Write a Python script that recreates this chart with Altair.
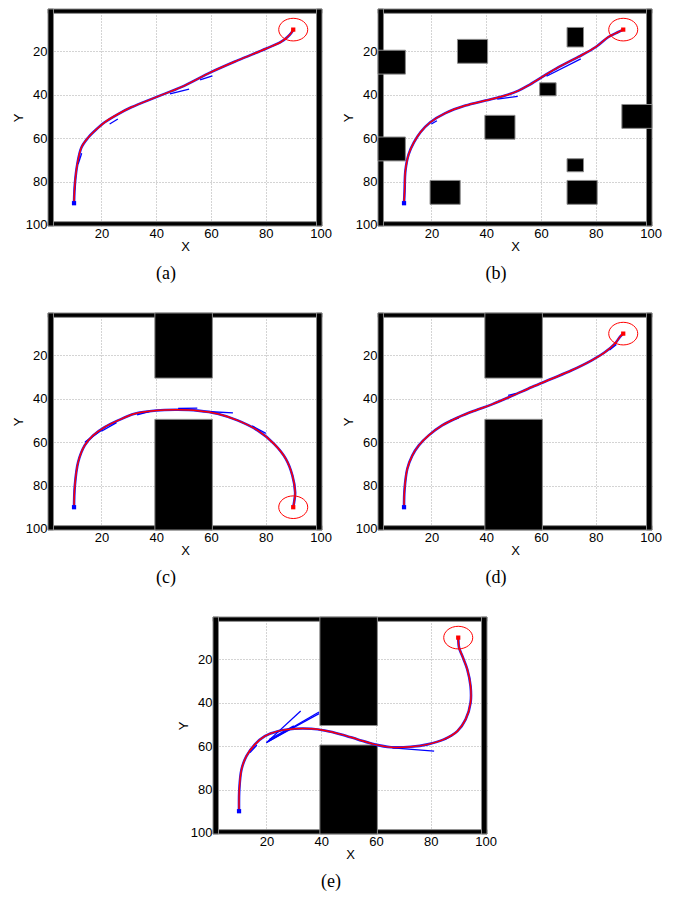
import altair as alt
import pandas as pd

# ---------------- data ----------------
DOMAIN = [0.5, 100.5]
TICKS = [20, 40, 60, 80, 100]

# map border (x, x2, y, y2)
FRAME = [(0.5, 100.5, 0.5, 2.5), (0.5, 100.5, 98.5, 100.5),
         (0.5, 2.5, 0.5, 100.5), (98.5, 100.5, 0.5, 100.5)]

OBS_A = []
OBS_B = [(0.5, 10.5, 19.5, 30.5), (29.5, 40.5, 14.5, 25.5), (69.5, 75.5, 9.0, 18.0),
         (59.5, 65.5, 34.5, 40.5), (89.5, 100.5, 44.5, 55.5), (39.5, 50.5, 49.5, 60.5),
         (0.5, 10.5, 59.5, 70.5), (69.5, 75.5, 69.5, 75.5), (19.5, 30.5, 79.5, 90.5),
         (69.5, 80.5, 79.5, 90.5)]
OBS_CD = [(39.5, 60.5, 0.5, 30.5), (39.5, 60.5, 49.5, 100.5)]
OBS_E = [(39.5, 60.5, 0.5, 50.5), (39.5, 60.5, 59.5, 100.5)]

PATH_A_X = [10, 10.3, 11.2, 12.7, 15.2, 17.6, 21.2, 26.1, 30.9, 40, 49.1, 60, 69.7, 80, 85.5, 87.9, 89.4, 90]
PATH_A_Y = [90, 81.3, 72, 64.3, 59.7, 56.6, 52.7, 48.9, 45.8, 41.1, 36.5, 29.6, 24.2, 18.8, 15.7, 13.4, 11.3, 10]

PATH_B_X = [10, 10.2, 10.5, 11.7, 13.6, 16, 19.6, 25.1, 32.4, 39.7, 46.9, 51.8, 55.4, 60.3, 66.4, 73.6, 80, 84.6, 88, 90]
PATH_B_Y = [90, 84.4, 75.1, 67.4, 62, 57.3, 52.7, 48.5, 45, 42.7, 40.4, 38.1, 35.7, 31.9, 27.3, 22.6, 18, 13.4, 11.2, 10]

PATH_C_X = [10, 10.3, 11.5, 13.9, 17, 21.2, 26.1, 32.1, 40, 47.9, 55.2, 62.4, 69.7, 77, 83, 87.3, 89.7, 90.7, 90.5, 90]
PATH_C_Y = [90, 80, 69.2, 61.5, 56.9, 53.1, 50, 46.9, 45.4, 45.1, 45.5, 46.9, 50, 54.6, 60.8, 67.7, 75.4, 83.1, 86.2, 90]

PATH_D_X = [10, 10.2, 11.2, 13, 15.4, 19, 23.9, 29.9, 36, 42.1, 49.4, 56.7, 63.9, 71.2, 78.5, 83.4, 87, 88.8, 90]
PATH_D_Y = [90, 81.7, 72.3, 66.2, 61.5, 56.9, 52.3, 48.5, 45.4, 42.6, 38.7, 34.6, 30.8, 26.9, 22.3, 18.5, 14.6, 11.5, 10]

PATH_E_X = [10, 10.1, 10.9, 12.7, 15.8, 19.4, 24.2, 30.3, 36.4, 41.2, 47.3, 53.3, 59.4, 65.5, 72.7, 78.8,
            84.8, 89.7, 92.7, 94.5, 94.5, 93.3, 91.5, 90.3, 90]
PATH_E_Y = [90, 80, 70.8, 64.6, 59.2, 55.4, 53.1, 52, 52, 52.8, 54.6, 56.9, 59.2, 60.5, 60.3, 59.2,
            56.9, 53.1, 47.7, 40, 32.3, 24.6, 18.5, 14.6, 10]

# blue predicted segments: each is (xs, ys)
BLUE_A = [([45, 52], [39.6, 37.4]), ([56, 60.5], [33.2, 31.3]), ([11.5, 12.8], [72, 67]),
          ([10.2, 10.5], [84, 80]), ([23, 26], [53.5, 51.2])]
BLUE_B = [([44, 51.5], [42, 40.8]), ([62, 74.5], [31.5, 23.5]), ([59, 63], [33, 30]),
          ([20, 22], [53.5, 52])]
BLUE_C = [([14, 20], [60, 54.5]), ([20, 25.5], [55, 51]), ([33, 37.5], [47.5, 46]),
          ([48, 55], [44.5, 44.3]), ([60, 68], [46, 46.5]), ([75, 80], [52.5, 56])]
BLUE_D = [([27, 30], [50, 48.8]), ([48, 51], [38.5, 37.5]), ([85, 87.5], [17.5, 15])]
BLUE_E = [([20, 32.5], [58.4, 43.8]), ([20, 39.2], [58.4, 44.3]), ([20.5, 39.2], [58.0, 45.0]),
          ([21, 30], [57, 50.7]), ([66, 81.2], [60.8, 62.3]), ([85, 88], [57, 55]),
          ([14, 16.5], [63, 59.5])]

START = (10, 90)
GOAL_UP = (90, 10)
GOAL_DOWN = (90, 90)

CAPTIONS = ["(a)", "(b)", "(c)", "(d)", "(e)"]

ELLIPSE = "M-1,0A1,0.78,0,1,1,1,0A1,0.78,0,1,1,-1,0Z"

# ---------------- chart ----------------
W, H = 274, 217


def panel(obs, px, py, blue, goal, cap):
    xs = alt.Scale(domain=DOMAIN, nice=False, zero=False)
    ys = alt.Scale(domain=DOMAIN, nice=False, zero=False, reverse=True)
    common = dict(grid=True, gridDash=[1, 2], gridColor="#a8a8a8", gridWidth=1,
                  domain=False, ticks=False, labelFont="Liberation Sans", labelFontSize=13,
                  labelColor="black", titleFont="Liberation Sans", titleFontSize=13,
                  titleFontWeight="normal", titleColor="black")
    xax = alt.Axis(values=TICKS, title="X", labelPadding=1, titlePadding=0, **common)
    yax = alt.Axis(values=TICKS, title="Y", labelPadding=1, titlePadding=0, **common)
    X = lambda f: alt.X(f, type="quantitative", scale=xs, axis=xax)
    Y = lambda f: alt.Y(f, type="quantitative", scale=ys, axis=yax)

    rect_df = pd.DataFrame(FRAME + obs, columns=["x", "x2", "y", "y2"])
    rects = alt.Chart(rect_df).mark_rect(color="black", stroke="#8a8a8a", strokeWidth=1).encode(
        x=X("x"), x2="x2", y=Y("y"), y2="y2")

    path_df = pd.DataFrame({"x": px, "y": py, "i": list(range(len(px)))})
    under = alt.Chart(path_df).mark_line(color="#2020ff", strokeWidth=2.6,
                                         interpolate="catmull-rom").encode(
        x=X("x"), y=Y("y"), order="i:Q")

    rows = []
    for k, (bx, by) in enumerate(blue):
        for j, (a, b) in enumerate(zip(bx, by)):
            rows.append({"x": a, "y": b, "seg": k, "i": j})
    blue_df = pd.DataFrame(rows)
    segs = alt.Chart(blue_df).mark_line(color="#0000ff", strokeWidth=1.3).encode(
        x=X("x"), y=Y("y"), detail="seg:N", order="i:Q")

    red = alt.Chart(path_df).mark_line(color="#ff0000", strokeWidth=1.5,
                                       interpolate="catmull-rom").encode(
        x=X("x"), y=Y("y"), order="i:Q")

    goal_df = pd.DataFrame({"x": [goal[0]], "y": [goal[1]]})
    ring = alt.Chart(goal_df).mark_point(shape=ELLIPSE, size=841, color="#ff0000",
                                         filled=False, strokeWidth=1, opacity=1).encode(
        x=X("x"), y=Y("y"))
    gdot = alt.Chart(goal_df).mark_square(size=18, color="#ff0000", opacity=1).encode(
        x=X("x"), y=Y("y"))
    start_df = pd.DataFrame({"x": [START[0]], "y": [START[1]]})
    sdot = alt.Chart(start_df).mark_square(size=18, color="#0000ff", opacity=1).encode(
        x=X("x"), y=Y("y"))

    return alt.layer(rects, under, segs, red, ring, gdot, sdot).properties(
        width=W, height=H,
        title=alt.TitleParams(cap, orient="bottom", font="Liberation Serif", fontSize=18,
                              fontWeight="normal", color="black", dx=-19, offset=12))


pa = panel(OBS_A, PATH_A_X, PATH_A_Y, BLUE_A, GOAL_UP, CAPTIONS[0])
pb = panel(OBS_B, PATH_B_X, PATH_B_Y, BLUE_B, GOAL_UP, CAPTIONS[1])
pc = panel(OBS_CD, PATH_C_X, PATH_C_Y, BLUE_C, GOAL_DOWN, CAPTIONS[2])
pd_ = panel(OBS_CD, PATH_D_X, PATH_D_Y, BLUE_D, GOAL_UP, CAPTIONS[3])
pe = panel(OBS_E, PATH_E_X, PATH_E_Y, BLUE_E, GOAL_UP, CAPTIONS[4])

spacer = alt.Chart(pd.DataFrame({"v": [0]})).mark_point(opacity=0).encode(
    x=alt.X("v:Q", axis=None), y=alt.Y("v:Q", axis=None)).properties(width=109, height=H)

row1 = alt.hconcat(pa, pb, spacing=56, bounds="flush")
row2 = alt.hconcat(pc, pd_, spacing=56, bounds="flush")
row3 = alt.hconcat(spacer, pe, spacing=56, bounds="flush")

chart = alt.vconcat(row1, row2, row3, spacing=29).properties(
    padding={"left": 4, "top": 0, "right": 0, "bottom": 0}, background="white"
).configure_view(strokeOpacity=0, strokeWidth=0)

chart.save("out.html", embed_options={"renderer": "svg", "actions": False})
